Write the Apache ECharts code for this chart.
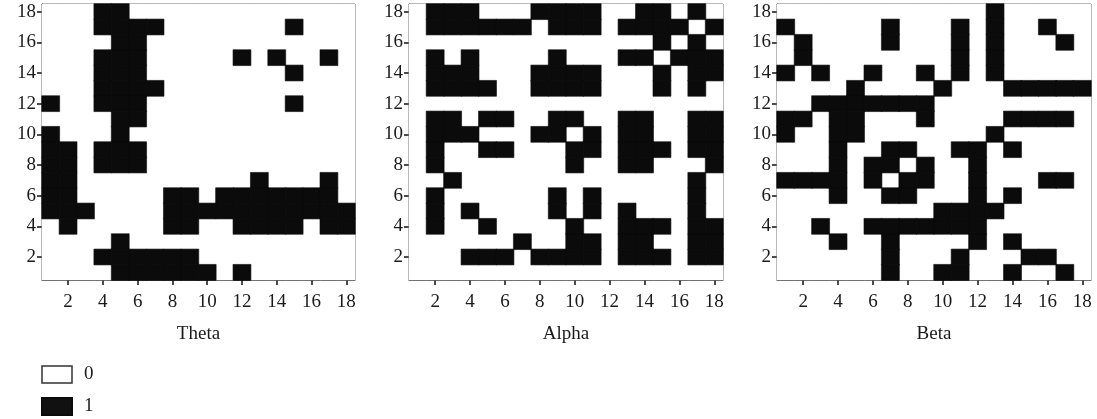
<!DOCTYPE html>
<html><head><meta charset="utf-8">
<script src="https://cdn.jsdelivr.net/npm/echarts@6/dist/echarts.min.js"></script>
<style>html,body{margin:0;padding:0;background:#fff}#c{width:1097px;height:419px}</style>
</head><body><div id="c"></div>
<script>
// 18x18 binary matrices; each string is one row, listed from the top row (18) down to the bottom row (1), columns 1..18 left to right
const thetaRows = [
  "000110000000000000",
  "000111100000001000",
  "000011000000000000",
  "000111000001010010",
  "000111000000001000",
  "000111100000000000",
  "100111000000001000",
  "000011000000000000",
  "100010000000000000",
  "110111000000000000",
  "110111000000000000",
  "110000000000100010",
  "110000011011111110",
  "111000011111111111",
  "010000011001111011",
  "000010000000000000",
  "000111111000000000",
  "000011111101000000"
];
const alphaRows = [
  "011100011110011010",
  "011111101110111101",
  "000000000000001010",
  "010100001000110111",
  "011100011110001011",
  "011110011110001010",
  "000000000000000000",
  "011011001100110011",
  "011100011010110011",
  "010011000110111011",
  "010000000100110001",
  "001000000000000010",
  "010000001010000010",
  "010100001010100010",
  "010010000100111011",
  "000000100110110011",
  "000111011110111011",
  "000000000000000000"
];
const betaRows = [
  "000000000000100000",
  "100000100010100100",
  "010000100010100010",
  "010000000010100000",
  "101001001010100000",
  "000010000100011111",
  "001111111000000000",
  "110110001000011110",
  "100110000000100000",
  "000100110011010000",
  "000101101001000000",
  "111101011001000110",
  "000100110001010000",
  "000000000111100000",
  "001001111111000000",
  "000100100001010000",
  "000000100010001100",
  "000000100110010010"
];
const categories = ["1","2","3","4","5","6","7","8","9","10","11","12","13","14","15","16","17","18"];
const panelNames = ["Theta","Alpha","Beta"];
const legendLabels = ["0","1"];

const panels = [thetaRows, alphaRows, betaRows];
const FONT = "'Liberation Serif', 'DejaVu Serif', serif";
const BLACK = "#0b0b0b";
const TEXT = "#1a1a1a";
const grids = [
  {left:42, top:4, width:313, height:276},
  {left:409, top:4, width:314, height:276},
  {left:777, top:4, width:314, height:276}
];
const everyOther = (idx) => idx % 2 === 1;

function cells(rows, val) {
  const out = [];
  const n = rows.length;
  rows.forEach((row, r) => {
    const y = n - 1 - r;
    for (let c = 0; c < row.length; c++) {
      if (Number(row[c]) === val) out.push([c, y, val]);
    }
  });
  return out;
}

const xAxes = [], yAxes = [], series = [];
panels.forEach((rows, i) => {
  xAxes.push({
    type:'category', gridIndex:i, data:categories, boundaryGap:true,
    axisLine:{show:true, lineStyle:{color:'#444', width:1}},
    axisTick:{show:true, alignWithLabel:true, interval:everyOther, length:5, lineStyle:{color:'#111', width:1.5}},
    axisLabel:{interval:everyOther, fontFamily:FONT, fontSize:19, color:TEXT, margin:13},
    splitLine:{show:false},
    name:panelNames[i], nameLocation:'middle', nameGap:45,
    nameTextStyle:{fontFamily:FONT, fontSize:19, color:TEXT}
  });
  yAxes.push({
    type:'category', gridIndex:i, data:categories, boundaryGap:true,
    axisLine:{show:true, lineStyle:{color:'#444', width:1}},
    axisTick:{show:true, alignWithLabel:true, interval:everyOther, length:5, lineStyle:{color:'#111', width:1.5}},
    axisLabel:{interval:everyOther, fontFamily:FONT, fontSize:19, color:TEXT, margin:6},
    splitLine:{show:false}
  });
  series.push({
    type:'heatmap', name:legendLabels[0], xAxisIndex:i, yAxisIndex:i,
    data:cells(rows, 0), itemStyle:{color:'#ffffff'}, emphasis:{disabled:true}
  });
  series.push({
    type:'heatmap', name:legendLabels[1], xAxisIndex:i, yAxisIndex:i,
    data:cells(rows, 1), itemStyle:{color:BLACK, borderColor:BLACK, borderWidth:0.6}, emphasis:{disabled:true}
  });
});

const chart = echarts.init(document.getElementById('c'), null, {renderer:'canvas'});
chart.setOption({
  animation:false,
  backgroundColor:'#fff',
  grid: grids.map(g => Object.assign({show:true, borderColor:'#444', borderWidth:1, backgroundColor:'#fff'}, g)),
  xAxis:xAxes,
  yAxis:yAxes,
  legend:{
    orient:'vertical', left:41, top:365, padding:0, itemWidth:30, itemHeight:17, itemGap:13,
    icon:'rect', selectedMode:false,
    textStyle:{fontFamily:FONT, fontSize:19, color:TEXT, padding:[0,0,0,7]},
    data:[
      {name:legendLabels[0], itemStyle:{color:'#fff', borderColor:'#333', borderWidth:1.5}},
      {name:legendLabels[1], itemStyle:{color:'#111'}}
    ]
  },
  series:series
});
</script></body></html>
